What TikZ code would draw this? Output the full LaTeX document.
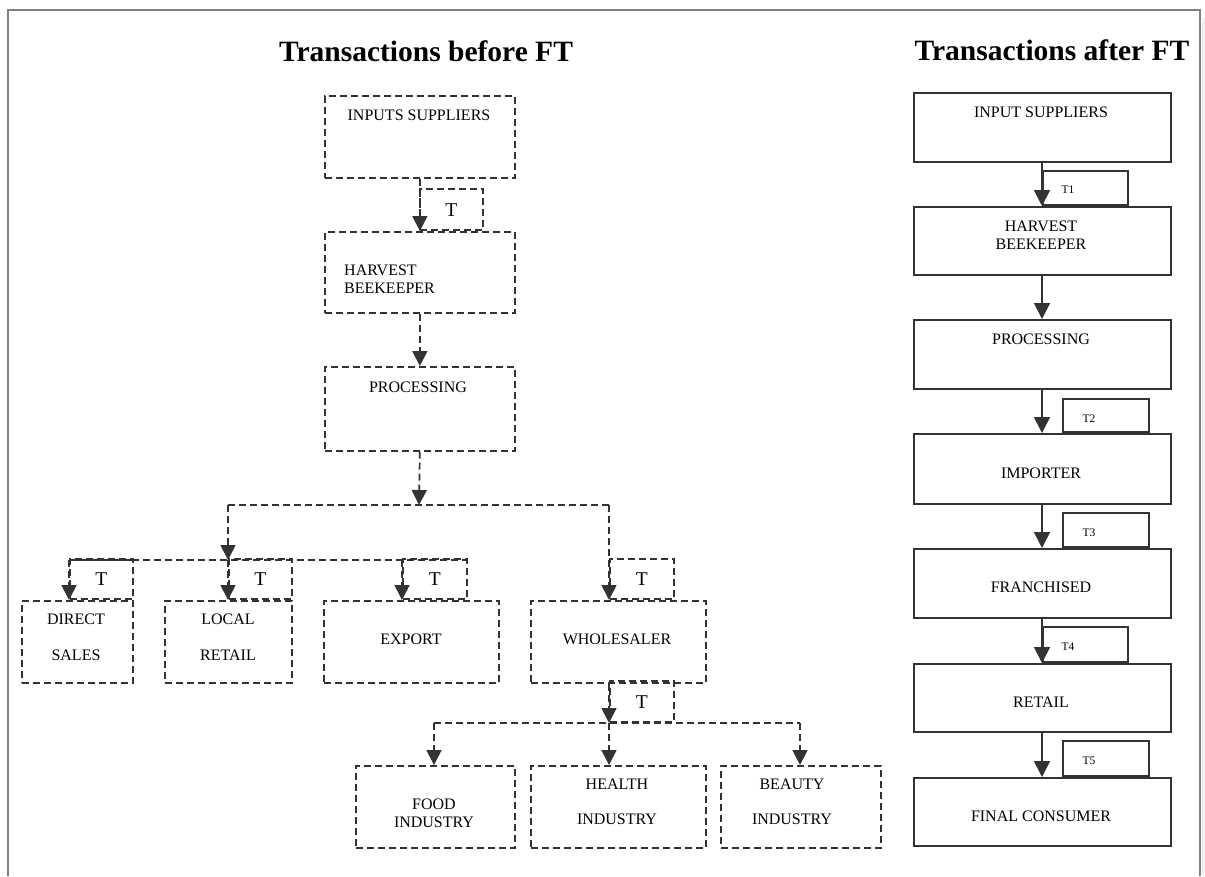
\documentclass[tikz,border=0pt]{standalone}
\usepackage{fontspec}
\setmainfont{Liberation Serif}
\usetikzlibrary{arrows.meta}
\definecolor{lc}{HTML}{333333}
\definecolor{fr}{HTML}{808080}
\begin{document}
\begin{tikzpicture}[x=1pt,y=-1pt,
  ln/.style={draw=lc, line width=1.7pt},
  dl/.style={ln, dash pattern=on 7pt off 4pt},
  dbox/.style={dl, rectangle, inner sep=0pt, anchor=north west},
  sbox/.style={ln, rectangle, inner sep=0pt, anchor=north west},
  tdbox/.style={dl, rectangle, inner sep=0pt, anchor=south west, font=\fontsize{19.5}{22}\selectfont},
  tsbox/.style={ln, rectangle, inner sep=0pt, anchor=south west},
  txt/.style={inner sep=0pt, align=center, text=black, font=\fontsize{16}{18}\selectfont},
  tlab/.style={inner sep=0pt, text=black, font=\fontsize{11.5}{13}\selectfont},
  ttl/.style={inner sep=0pt, text=black, font=\fontsize{29.5}{34}\selectfont\bfseries},
  arrL/.style={-{Triangle[width=15pt,length=15pt]}},
  arrR/.style={-{Triangle[width=16pt,length=16pt]}}
]
\useasboundingbox (0,0) rectangle (1205,876);
% frame
\fill[gray!12] (1202,18) rectangle (1205,876);
\draw[fr, line width=2pt] (8,876) -- (8,10) -- (1200,10) -- (1200,876);

% titles
\node[ttl] (tl) at (426,51) {Transactions before FT};
\node[ttl] (tr) at (1052,50) {Transactions after FT};

% ---------------- left: before FT ----------------
\node[dbox, minimum width=190pt, minimum height=82pt] (is) at (324,95) {};
\node[txt] (ist) at (419,115) {INPUTS SUPPLIERS};
\node[dbox, minimum width=190pt, minimum height=81pt] (hb) at (324,231) {};
\node[txt, anchor=west, align=left] (hbt) at (344,279) {HARVEST\\BEEKEEPER};
\node[dbox, minimum width=190pt, minimum height=84pt] (pr) at (324,366) {};
\node[txt] (prt) at (418,387) {PROCESSING};

\node[dbox, minimum width=111pt, minimum height=82pt] (ds) at (21,600) {};
\node[txt, font=\fontsize{16}{36}\selectfont] (dst) at (76,637) {DIRECT\\SALES};
\node[dbox, minimum width=127pt, minimum height=82pt] (lr) at (164,600) {};
\node[txt, font=\fontsize{16}{36}\selectfont] (lrt) at (228,637) {LOCAL\\RETAIL};
\node[dbox, minimum width=175pt, minimum height=82pt] (ex) at (323,600) {};
\node[txt] (ext) at (411,639) {EXPORT};
\node[dbox, minimum width=175pt, minimum height=82pt] (ws) at (530,600) {};
\node[txt] (wst) at (617,639) {WHOLESALER};

\node[dbox, minimum width=159pt, minimum height=82pt] (fi) at (355,765) {};
\node[txt] (fit) at (434,813) {FOOD\\INDUSTRY};
\node[dbox, minimum width=175pt, minimum height=82pt] (hi) at (530,765) {};
\node[txt, font=\fontsize{16}{35}\selectfont] (hit) at (617,802) {HEALTH\\INDUSTRY};
\node[dbox, minimum width=160pt, minimum height=82pt] (bi) at (720,765) {};
\node[txt, font=\fontsize{16}{35}\selectfont] (bit) at (792,802) {BEAUTY\\INDUSTRY};

% T boxes
\node[tdbox, minimum width=63pt, minimum height=41pt] (ta) at (419,231) {T};
\node[tdbox, minimum width=63pt, minimum height=40pt] (tb) at (69,600) {T};
\node[tdbox, minimum width=63pt, minimum height=40pt] (tc) at (228,600) {T};
\node[tdbox, minimum width=64pt, minimum height=40pt] (td) at (402,600) {T};
\node[tdbox, minimum width=64pt, minimum height=40pt] (te) at (609,600) {T};
\node[tdbox, minimum width=64pt, minimum height=41pt] (tf) at (609,723) {T};

% junctions
\coordinate (j1) at (419,505);
\coordinate (jL) at (228,505);
\coordinate (jR) at (609,505);
\coordinate (j2) at (228,560);
\coordinate (c1) at (69,560);
\coordinate (c2) at (132,560);
\coordinate (c3) at (402,560);
\coordinate (c4) at (466,560);
\coordinate (k) at (609,723);
\coordinate (kL) at (434,723);
\coordinate (kR) at (800,723);

% connectors
\draw[dl, arrL] (is.south) -- (hb.north);
\draw[dl, arrL] (hb.south) -- (pr.north);
\draw[dl, arrL] (pr.south) -- (j1);
\draw[dl] (jL) -- (jR);
\draw[dl, arrL] (jL) -- (j2);
\draw[dl, arrL] (jR) -- (jR |- ws.north);
\draw[ln] (c1) -- (c2);
\draw[dl] (c2) -- (c4);
\draw[dl, arrL] (c1) -- (c1 |- ds.north);
\draw[dl, arrL] (j2) -- (j2 |- lr.north);
\draw[dl, arrL] (c3) -- (c3 |- ex.north);
\draw[dl, arrL] (k |- ws.south) -- (k);
\draw[dl] (kL) -- (kR);
\draw[dl, arrL] (kL) -- (kL |- fi.north);
\draw[dl, arrL] (k) -- (k |- hi.north);
\draw[dl, arrL] (kR) -- (kR |- bi.north);

% ---------------- right: after FT ----------------
\node[sbox, minimum width=257pt, minimum height=69pt] (r1) at (913,92) {};
\node[txt] (r1t) at (1041,112) {INPUT SUPPLIERS};
\node[sbox, minimum width=257pt, minimum height=68pt] (r2) at (913,206) {};
\node[txt] (r2t) at (1041,235) {HARVEST\\BEEKEEPER};
\node[sbox, minimum width=257pt, minimum height=69pt] (r3) at (913,319) {};
\node[txt] (r3t) at (1041,339) {PROCESSING};
\node[sbox, minimum width=257pt, minimum height=70pt] (r4) at (913,433) {};
\node[txt] (r4t) at (1041,473) {IMPORTER};
\node[sbox, minimum width=257pt, minimum height=69pt] (r5) at (913,548) {};
\node[txt] (r5t) at (1041,587) {FRANCHISED};
\node[sbox, minimum width=257pt, minimum height=68pt] (r6) at (913,663) {};
\node[txt] (r6t) at (1041,702) {RETAIL};
\node[sbox, minimum width=257pt, minimum height=68pt] (r7) at (913,777) {};
\node[txt] (r7t) at (1041,816) {FINAL CONSUMER};

\node[tsbox, minimum width=85pt, minimum height=34pt] (s1) at (1042,206) {};
\node[tlab] (s1t) at (1068,190) {T1};
\node[tsbox, minimum width=86pt, minimum height=33pt] (s2) at (1062,433) {};
\node[tlab] (s2t) at (1089,419) {T2};
\node[tsbox, minimum width=86pt, minimum height=34pt] (s3) at (1062,548) {};
\node[tlab] (s3t) at (1089,533) {T3};
\node[tsbox, minimum width=85pt, minimum height=35pt] (s4) at (1042,663) {};
\node[tlab] (s4t) at (1068,647) {T4};
\node[tsbox, minimum width=86pt, minimum height=35pt] (s5) at (1062,777) {};
\node[tlab] (s5t) at (1089,761) {T5};

\coordinate (ax) at (1042,0);
\draw[ln, arrR] (ax |- r1.south) -- (ax |- r2.north);
\draw[ln, arrR] (ax |- r2.south) -- (ax |- r3.north);
\draw[ln, arrR] (ax |- r3.south) -- (ax |- r4.north);
\draw[ln, arrR] (ax |- r4.south) -- (ax |- r5.north);
\draw[ln, arrR] (ax |- r5.south) -- (ax |- r6.north);
\draw[ln, arrR] (ax |- r6.south) -- (ax |- r7.north);
\end{tikzpicture}
\end{document}
